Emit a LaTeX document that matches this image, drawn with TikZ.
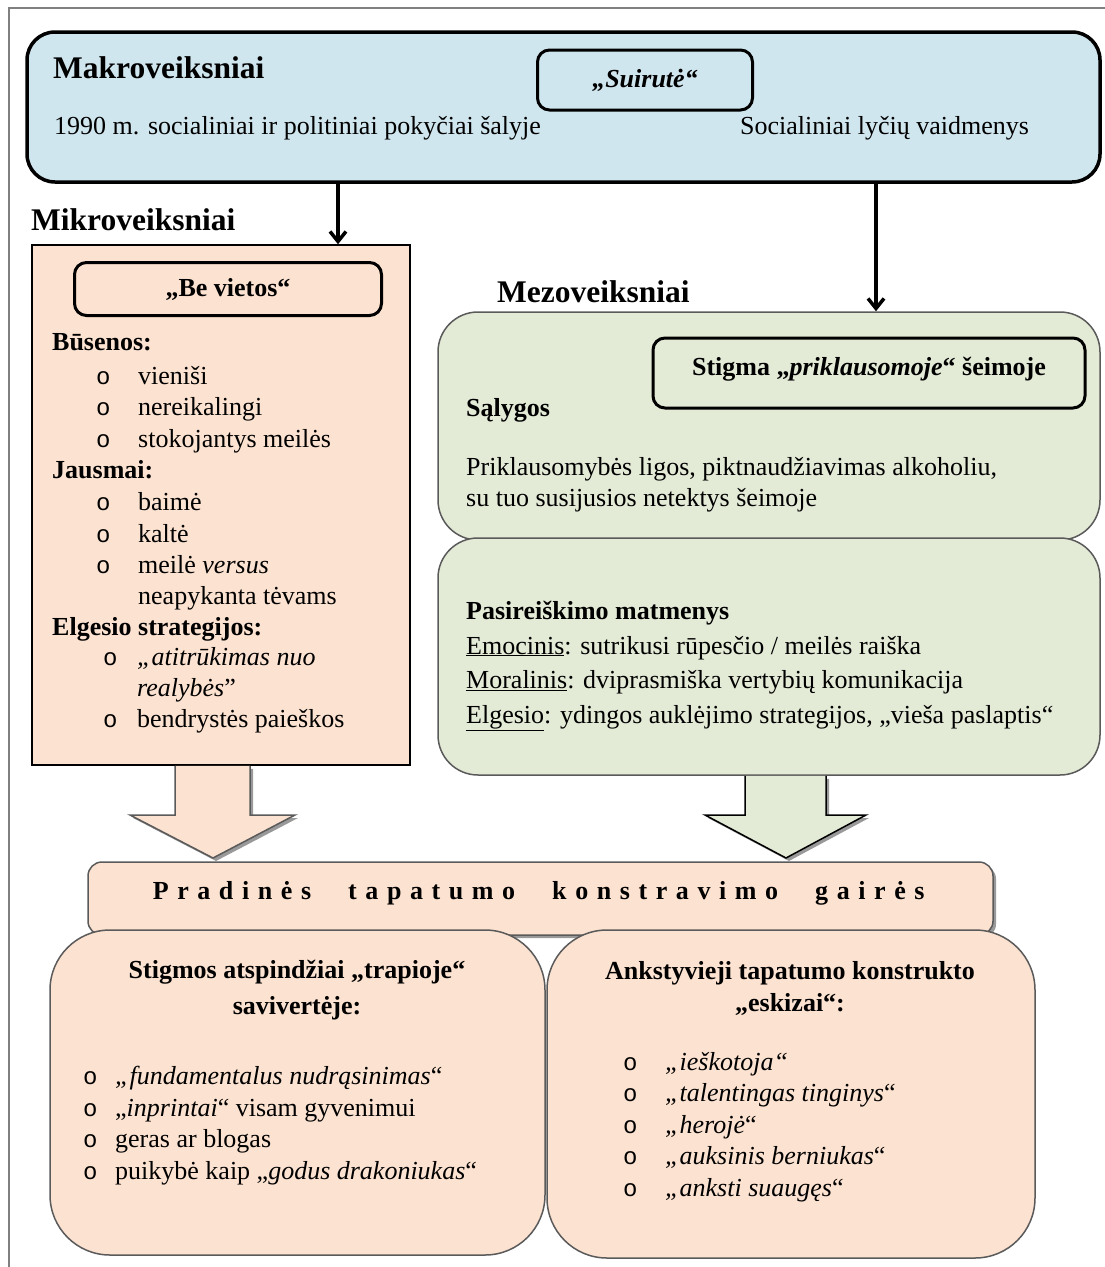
\documentclass[tikz,border=0pt]{standalone}
\usepackage{fontspec}
\setmainfont{Liberation Serif}
\newfontfamily\bltfont{Liberation Mono}
\usetikzlibrary{positioning,shadows,arrows.meta}
\definecolor{makroblue}{RGB}{208,230,238}
\definecolor{peach}{RGB}{252,226,208}
\definecolor{mezogreen}{RGB}{227,234,214}
\definecolor{edgegray}{RGB}{90,90,90}
\newcommand{\blt}{{\bltfont\fontsize{24}{24}\selectfont o}}
\begin{document}
\begin{tikzpicture}[x=1pt, y=-1pt, font=\fontsize{26}{31.5}\selectfont,
  tagbox/.style={draw, line width=3pt, rounded corners=12pt},
  title/.style={anchor=west, font=\fontsize{31.5}{36}\selectfont\bfseries, inner sep=0pt},
  head/.style={anchor=west, font=\fontsize{26}{31.5}\selectfont\bfseries, inner sep=0pt},
  txt/.style={anchor=west, inner sep=0pt},
  shadow/.style={drop shadow={shadow xshift=3pt, shadow yshift=-3pt, fill=gray!80, opacity=1}},
  arr/.style={-{Straight Barb[length=10pt, width=16pt, line width=3.5pt]}, line width=3.5pt}]
\useasboundingbox (0,0) rectangle (1105,1267);
\draw[gray, line width=1.5pt] (9,1280) -- (9,8) -- (1120,8);
% Makroveiksniai
\node[draw, line width=3.5pt, rounded corners=28pt, fill=makroblue, minimum width=1073pt, minimum height=150pt] (makro) at (563.5,107) {};
\node[title] (makrot) at (53,68) {Makroveiksniai};
\node[tagbox, fill=makroblue, minimum width=215pt, minimum height=60pt] (suirute) at (645,80) {\textbf{\textit{„Suirutė“}}};
\node[txt] (makro1) at (54,128) {1990 m. socialiniai ir politiniai pokyčiai šalyje};
\node[txt] (makro2) at (740,128) {Socialiniai lyčių vaidmenys};
% Mikroveiksniai
\node[title] (mikrot) at (31,220) {Mikroveiksniai};
\node[draw, line width=1.5pt, fill=peach, minimum width=378pt, minimum height=520pt] (mikro) at (221,505) {};
\node[tagbox, fill=peach, minimum width=307pt, minimum height=53pt] (bevietos) at (228,289) {\textbf{„Be vietos“}};
\node[anchor=north west, align=left, inner sep=0pt, font=\fontsize{26}{31.3}\selectfont] (mikrolist) at (52,333) {%
\textbf{Būsenos:}\\[3pt]
\hspace*{44pt}\makebox[42pt][l]{\blt}vieniši\\
\hspace*{44pt}\makebox[42pt][l]{\blt}nereikalingi\\
\hspace*{44pt}\makebox[42pt][l]{\blt}stokojantys meilės\\
\textbf{Jausmai:}\\[1pt]
\hspace*{44pt}\makebox[42pt][l]{\blt}baimė\\
\hspace*{44pt}\makebox[42pt][l]{\blt}kaltė\\
\hspace*{44pt}\makebox[42pt][l]{\blt}meilė \textit{versus}\\
\hspace*{86pt}neapykanta tėvams\\
\textbf{Elgesio strategijos:}\\[-2pt]
\hspace*{51pt}\makebox[34pt][l]{\blt}\textit{„atitrūkimas nuo}\\
\hspace*{85pt}\textit{realybės}\symbol{34}\\
\hspace*{51pt}\makebox[34pt][l]{\blt}bendrystės paieškos};
% Mezoveiksniai
\node[title] (mezot) at (497,292) {Mezoveiksniai};
\node[draw=edgegray, line width=1.5pt, rounded corners=40pt, fill=mezogreen, minimum width=662pt, minimum height=228pt] (mezo1) at (769,426) {};
\node[draw=edgegray, line width=1.5pt, rounded corners=40pt, fill=mezogreen, minimum width=662pt, minimum height=237pt] (mezo2) at (769,656.5) {};
\node[tagbox, fill=mezogreen, minimum width=432pt, minimum height=70pt, text depth=14pt] (stigma) at (869,373) {\textbf{Stigma „\textit{priklausomoje}“ šeimoje}};
\node[head] (salygos) at (466,410) {Sąlygos};
\node[anchor=north west, align=left, inner sep=0pt] (salygostxt) at (466,457) {Priklausomybės ligos, piktnaudžiavimas alkoholiu,\\su tuo susijusios netektys šeimoje};
\node[anchor=north west, align=left, inner sep=0pt, font=\fontsize{26}{34.5}\selectfont] (matmenys) at (466,601) {%
\textbf{Pasireiškimo matmenys}\\
\underline{Emocinis}: sutrikusi rūpesčio / meilės raiška\\
\underline{Moralinis}: dviprasmiška vertybių komunikacija\\
\underline{Elgesio}: ydingos auklėjimo strategijos, „vieša paslaptis“};
% rodykles
\draw[arr] (makro.south -| 338,0) -- (mikro.north -| 338,0);
\draw[arr] (makro.south -| 876,0) -- (mezo1.north -| 876,0);
% Pradines gaires
\node[draw=edgegray, line width=1.5pt, rounded corners=14pt, fill=peach, minimum width=905pt, minimum height=73pt, shadow] (gaires) at (540.5,898.5) {};
\node (gairestxt) at (543,893) {\addfontfeature{LetterSpace=33}\textbf{Pradinės\hspace{22pt} tapatumo\hspace{22pt} konstravimo\hspace{22pt} gairės}};
\draw[edgegray, line width=1.5pt, fill=peach, shadow] (mikro.south -| 175,0) -- (175,815) -- (130,815) -- (213,858) -- (295,815) -- (250,815) -- (mikro.south -| 250,0);
\draw[black, line width=1.5pt, fill=mezogreen, shadow] (mezo2.south -| 745,0) -- (745,815) -- (705,815) -- (786,858) -- (866,815) -- (826,815) -- (mezo2.south -| 826,0);
% apatines dezes
\node[draw=edgegray, line width=1.5pt, rounded corners=60pt, fill=peach, minimum width=495pt, minimum height=325pt] (stigmos) at (297.5,1092.5) {};
\node[draw=edgegray, line width=1.5pt, rounded corners=60pt, fill=peach, minimum width=488pt, minimum height=328pt] (eskizai) at (791,1094) {};
\node[align=center, font=\fontsize{26}{36}\selectfont\bfseries] (stigmost) at (297,990) {Stigmos atspindžiai „trapioje“\\savivertėje:};
\node[anchor=north west, align=left, inner sep=0pt] (stigmoslist) at (83,1066) {%
\makebox[32pt][l]{\blt}\textit{„fundamentalus nudrąsinimas}“\\
\makebox[32pt][l]{\blt}„\textit{inprintai}“ visam gyvenimui\\
\makebox[32pt][l]{\blt}geras ar blogas\\
\makebox[32pt][l]{\blt}puikybė kaip „\textit{godus drakoniukas}“};
\node[align=center, font=\fontsize{26}{32}\selectfont\bfseries] (eskizait) at (790,988) {Ankstyvieji tapatumo konstrukto\\„eskizai“:};
\node[anchor=north west, align=left, inner sep=0pt] (eskizailist) at (623,1052) {%
\makebox[42pt][l]{\blt}\textit{„ieškotoja“}\\
\makebox[42pt][l]{\blt}\textit{„talentingas tinginys}“\\
\makebox[42pt][l]{\blt}\textit{„herojė}“\\
\makebox[42pt][l]{\blt}\textit{„auksinis berniukas}“\\
\makebox[42pt][l]{\blt}\textit{„anksti suaugęs}“};
\end{tikzpicture}
\end{document}
